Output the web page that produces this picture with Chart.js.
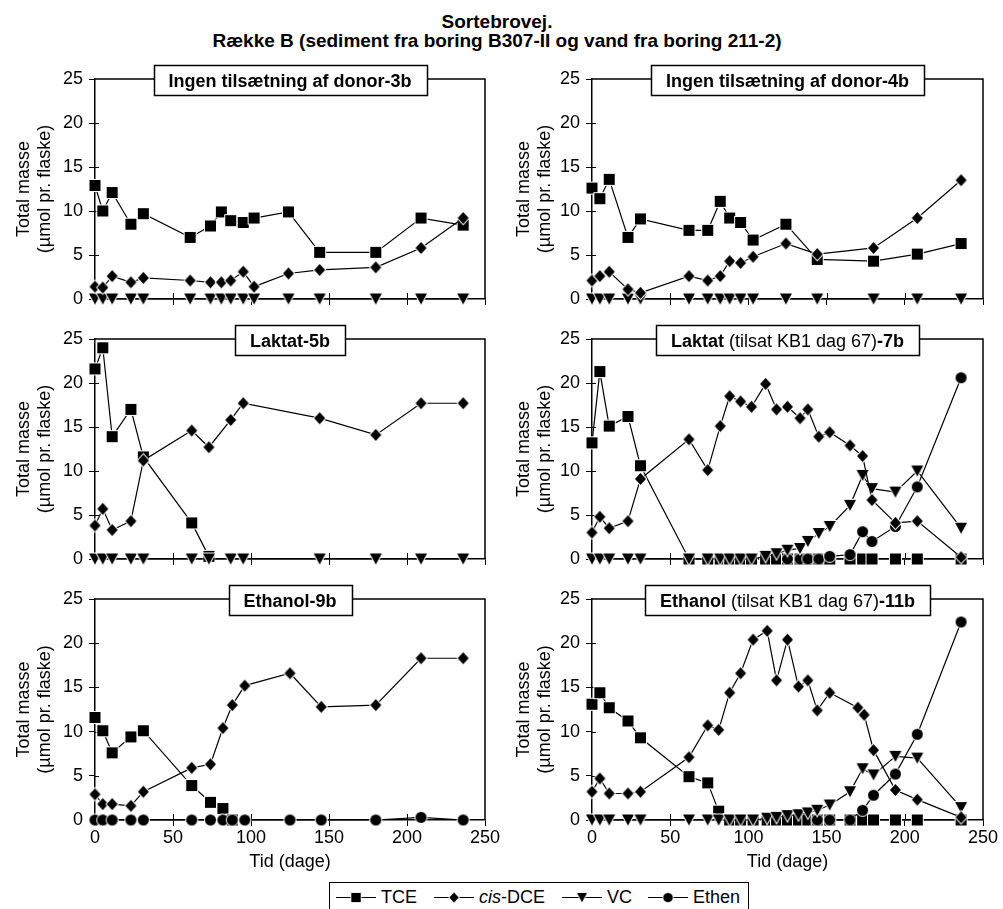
<!DOCTYPE html>
<html lang="da">
<head>
<meta charset="utf-8">
<title>Sortebrovej – Række B</title>
<script src="https://cdn.jsdelivr.net/npm/chart.js@4.4.1/dist/chart.umd.min.js"></script>
<style>
  html, body { margin: 0; padding: 0; background: #fff; }
  body {
    width: 1003px; height: 909px; position: relative; overflow: hidden;
    font-family: "Liberation Sans", Arial, Helvetica, sans-serif; color: #000;
  }
  .title {
    position: absolute; left: 0; top: 12px; width: 994px;
    text-align: center; font-weight: bold; font-size: 19px; line-height: 19px;
  }
  canvas.panel { position: absolute; }
  #p3b { left: 0; top: 49px; }
  #p4b { left: 500px; top: 49px; }
  #p5b { left: 0; top: 309px; }
  #p7b { left: 500px; top: 309px; }
  #p9b { left: 0; top: 569px; }
  #p11b { left: 500px; top: 569px; }
  .legend {
    position: absolute; left: 329px; top: 882px; width: 420px; height: 40px;
    border: 1.5px solid #000; box-sizing: border-box; font-size: 18px;
  }
  .legend canvas, .legend span { position: absolute; }
  .legend span { top: 4px; line-height: 20px; white-space: nowrap; }
  .legend canvas { top: 4px; }
</style>
</head>
<body>
<div class="title">Sortebrovej.<br>Række B (sediment fra boring B307-II og vand fra boring 211-2)</div>

<canvas class="panel" id="p3b" width="500" height="262"></canvas>
<canvas class="panel" id="p4b" width="503" height="262"></canvas>
<canvas class="panel" id="p5b" width="500" height="262"></canvas>
<canvas class="panel" id="p7b" width="503" height="262"></canvas>
<canvas class="panel" id="p9b" width="500" height="304"></canvas>
<canvas class="panel" id="p11b" width="503" height="304"></canvas>

<div class="legend" id="legend"></div>

<script>
// Total masse (µmol pr. flaske) mod tid (dage), en serie pr. stof og flaske

// 3b: ingen tilsætning af donor
const days3b = [0, 5, 11, 23, 31, 61, 74, 81, 87, 95, 102, 124, 144, 180, 209, 236];
const tce3b = [12.9, 10.0, 12.1, 8.5, 9.7, 7.0, 8.3, 9.9, 8.9, 8.7, 9.2, 9.9, 5.3, 5.3, 9.2, 8.4];
const dce3b = [1.4, 1.3, 2.6, 1.9, 2.4, 2.1, 1.9, 1.9, 2.1, 3.1, 1.4, 2.9, 3.3, 3.6, 5.8, 9.2];
const vc3b = [0, 0, 0, 0, 0, 0, 0, 0, 0, 0, 0, 0, 0, 0, 0, 0];

// 4b: ingen tilsætning af donor
const days4b = [0, 5, 11, 23, 31, 62, 74, 82, 88, 95, 103, 124, 144, 180, 208, 236];
const tce4b = [12.6, 11.4, 13.6, 7.0, 9.1, 7.8, 7.8, 11.1, 9.2, 8.7, 6.7, 8.5, 4.5, 4.3, 5.1, 6.3];
const dce4b = [2.1, 2.6, 3.1, 1.1, 0.7, 2.6, 2.1, 2.6, 4.3, 4.1, 4.8, 6.3, 5.1, 5.8, 9.2, 13.5];
const vc4b = [0, 0, 0, 0, 0, 0, 0, 0, 0, 0, 0, 0, 0, 0, 0, 0];

// 5b: laktat
const tceDays5b = [0, 5, 11, 23, 31, 62, 73];
const tce5b = [21.6, 24.0, 13.9, 17.0, 11.6, 4.1, 0.3];
const days5b = [0, 5, 11, 23, 31, 62, 73, 87, 95, 144, 180, 209, 236];
const dce5b = [3.8, 5.7, 3.3, 4.3, 11.2, 14.6, 12.7, 15.8, 17.7, 16.0, 14.1, 17.7, 17.7];
const vc5b = [0, 0, 0, 0, 0, 0, 0, 0, 0, 0, 0, 0, 0];

// 7b: laktat, KB1 tilsat dag 67
const days7b = [0, 5, 11, 23, 31, 62, 74, 82, 88, 95, 102, 111, 118, 125, 133, 138, 145, 152, 165, 173, 179, 194, 208, 236];
const tce7b = [13.2, 21.3, 15.1, 16.2, 10.6, 0, 0, 0, 0, 0, 0, 0, 0, 0, 0, 0, 0, 0, 0, 0, 0, 0, 0, 0];
const dce7b = [3.0, 4.8, 3.5, 4.3, 9.1, 13.6, 10.1, 15.1, 18.5, 17.9, 17.3, 19.9, 17.0, 17.3, 16.0, 17.0, 13.9, 14.4, 12.9, 11.7, 6.7, 4.1, 4.3, 0.2];
const vc7b = [0, 0, 0, 0, 0, 0, 0, 0, 0, 0, 0, 0.3, 0.6, 1.0, 1.2, 2.0, 2.9, 3.7, 6.1, 9.5, 8.0, 7.6, 10.0, 3.5];
const ethenDays7b = [125, 133, 138, 145, 152, 165, 173, 179, 194, 208, 236];
const ethen7b = [0, 0, 0, 0, 0.3, 0.5, 3.1, 2.0, 3.7, 8.2, 20.6];

// 9b: ethanol
const tceDays9b = [0, 5, 11, 23, 31, 62, 74, 82, 88];
const tce9b = [11.6, 10.1, 7.6, 9.4, 10.1, 3.9, 2.0, 1.3, 0];
const days9b = [0, 5, 11, 23, 31, 62, 74, 82, 88, 96, 125, 145, 180, 209, 236];
const dce9b = [2.9, 1.8, 1.8, 1.6, 3.2, 5.9, 6.3, 10.4, 13.0, 15.2, 16.6, 12.8, 13.0, 18.3, 18.3];
const ethen9b = [0, 0, 0, 0, 0, 0, 0, 0, 0, 0, 0, 0, 0, 0.3, 0];

// 11b: ethanol, KB1 tilsat dag 67
const days11b = [0, 5, 11, 23, 31, 62, 74, 81, 88, 95, 103, 112, 118, 125, 132, 138, 144, 152, 165, 173, 180, 194, 208, 236];
const tce11b = [13.1, 14.4, 12.7, 11.2, 9.3, 4.9, 4.2, 1.0, 0, 0, 0, 0, 0, 0, 0, 0, 0, 0, 0, 0, 0, 0, 0, 0];
const vc11b = [0, 0, 0, 0, 0, 0, 0, 0, 0, 0, 0, 0.2, 0.3, 0.5, 0.6, 0.8, 1.1, 1.7, 3.2, 5.8, 5.1, 7.2, 7.0, 1.4];
const dceDays11b = [0, 5, 11, 23, 31, 62, 74, 81, 88, 95, 103, 112, 118, 125, 132, 138, 144, 152, 170, 174, 180, 194, 208, 236];
const dce11b = [3.2, 4.7, 3.0, 3.0, 3.2, 7.1, 10.7, 10.2, 14.4, 16.6, 20.4, 21.4, 15.8, 20.4, 15.1, 15.8, 12.4, 14.4, 12.7, 11.9, 7.9, 3.4, 2.3, 0.3];
const ethenDays11b = [144, 152, 165, 173, 180, 194, 208, 236];
const ethen11b = [0, 0, 0, 1.1, 2.8, 5.2, 9.7, 22.4];

const FONT = '"Liberation Sans", Arial, Helvetica, sans-serif';
Chart.defaults.font.family = FONT;
Chart.defaults.font.size = 18;
Chart.defaults.color = '#000';

// black marker with a thin white rim, used as pointStyle
function makeMarker(shape, w, h) {
  const c = document.createElement('canvas');
  c.width = w + 4;
  c.height = h + 4;
  const g = c.getContext('2d');
  const cx = c.width / 2, cy = c.height / 2;
  g.beginPath();
  if (shape === 'square') {
    g.rect(cx - w / 2, cy - h / 2, w, h);
  } else if (shape === 'diamond') {
    g.moveTo(cx, cy - h / 2);
    g.lineTo(cx + w / 2, cy);
    g.lineTo(cx, cy + h / 2);
    g.lineTo(cx - w / 2, cy);
    g.closePath();
  } else if (shape === 'triangle') {
    g.moveTo(cx - w / 2, cy - h / 2);
    g.lineTo(cx + w / 2, cy - h / 2);
    g.lineTo(cx, cy + h / 2);
    g.closePath();
  } else {
    g.ellipse(cx, cy, w / 2, h / 2, 0, 0, Math.PI * 2);
  }
  g.lineWidth = 2;
  g.strokeStyle = '#fff';
  g.stroke();
  g.fillStyle = '#000';
  g.fill();
  return c;
}

const STYLE = {
  'TCE': {marker: makeMarker('square', 11, 11), order: 3},
  'cis-DCE': {marker: makeMarker('diamond', 11, 12), order: 0},
  'VC': {marker: makeMarker('triangle', 12, 11), order: 1},
  'Ethen': {marker: makeMarker('circle', 11, 11), order: 2}
};

// top and right edges of the box plus the inner half of the tick marks
const frame = {
  id: 'frame',
  beforeDatasetsDraw(chart) {
    const {ctx, chartArea: a, scales: {x, y}} = chart;
    ctx.save();
    ctx.strokeStyle = '#000';
    ctx.lineWidth = 1.5;
    ctx.beginPath();
    ctx.moveTo(a.left, a.top);
    ctx.lineTo(a.right, a.top);
    ctx.lineTo(a.right, a.bottom);
    ctx.stroke();

    ctx.lineWidth = 1;
    ctx.beginPath();
    x.ticks.forEach((t) => {
      if (t.value > x.min && t.value < x.max) {
        const px = Math.round(x.getPixelForValue(t.value)) + 0.5;
        ctx.moveTo(px, a.bottom);
        ctx.lineTo(px, a.bottom - 6);
      }
    });
    y.ticks.forEach((t) => {
      if (t.value > y.min && t.value < y.max) {
        const py = Math.round(y.getPixelForValue(t.value)) + 0.5;
        ctx.moveTo(a.left, py);
        ctx.lineTo(a.left + 4, py);
      }
    });
    ctx.stroke();
    ctx.restore();
  }
};

// boxed heading sitting on the top edge, with bold and plain runs
const panelTitle = {
  id: 'panelTitle',
  afterDraw(chart, args, opts) {
    const {ctx, chartArea: a} = chart;
    const parts = opts.parts || [];
    ctx.save();
    const widths = parts.map(([text, bold]) => {
      ctx.font = (bold ? 'bold ' : '') + '18px ' + FONT;
      return ctx.measureText(text).width;
    });
    const textW = widths.reduce((s, v) => s + v, 0);
    const boxW = Math.round(textW + 30);
    const cx = (a.left + a.right) / 2;
    const bx = Math.round(cx - boxW / 2) + 0.5;
    const by = Math.round(a.top - 14) + 0.5;
    ctx.fillStyle = '#fff';
    ctx.fillRect(bx, by, boxW, 30);
    ctx.strokeStyle = '#000';
    ctx.lineWidth = 1.5;
    ctx.strokeRect(bx, by, boxW, 30);

    ctx.fillStyle = '#000';
    ctx.textBaseline = 'alphabetic';
    let tx = cx - textW / 2;
    parts.forEach(([text, bold], i) => {
      ctx.font = (bold ? 'bold ' : '') + '18px ' + FONT;
      ctx.fillText(text, tx, a.top + 8);
      tx += widths[i];
    });
    ctx.restore();
  }
};

const panels = [
  {id: 'p3b', right: false, bottom: false,
    title: [['Ingen tilsætning af donor-3b', true]],
    series: [['TCE', days3b, tce3b], ['cis-DCE', days3b, dce3b], ['VC', days3b, vc3b]]},
  {id: 'p4b', right: true, bottom: false,
    title: [['Ingen tilsætning af donor-4b', true]],
    series: [['TCE', days4b, tce4b], ['cis-DCE', days4b, dce4b], ['VC', days4b, vc4b]]},
  {id: 'p5b', right: false, bottom: false,
    title: [['Laktat-5b', true]],
    series: [['TCE', tceDays5b, tce5b], ['cis-DCE', days5b, dce5b], ['VC', days5b, vc5b]]},
  {id: 'p7b', right: true, bottom: false,
    title: [['Laktat', true], [' (tilsat KB1 dag 67)', false], ['-7b', true]],
    series: [['TCE', days7b, tce7b], ['cis-DCE', days7b, dce7b], ['VC', days7b, vc7b],
      ['Ethen', ethenDays7b, ethen7b]]},
  {id: 'p9b', right: false, bottom: true,
    title: [['Ethanol-9b', true]],
    series: [['TCE', tceDays9b, tce9b], ['cis-DCE', days9b, dce9b], ['Ethen', days9b, ethen9b]]},
  {id: 'p11b', right: true, bottom: true,
    title: [['Ethanol', true], [' (tilsat KB1 dag 67)', false], ['-11b', true]],
    series: [['TCE', days11b, tce11b], ['cis-DCE', dceDays11b, dce11b], ['VC', days11b, vc11b],
      ['Ethen', ethenDays11b, ethen11b]]}
];

const axisGrid = {display: true, drawOnChartArea: false, drawTicks: true, tickLength: 6, color: '#000', lineWidth: 1};
const axisBorder = {display: true, color: '#000', width: 1.5};

panels.forEach((p) => {
  const datasets = p.series.map(([name, xs, ys]) => ({
    label: name,
    data: xs.map((x, i) => ({x, y: ys[i]})),
    borderColor: '#000',
    borderWidth: 1.2,
    backgroundColor: '#000',
    pointStyle: STYLE[name].marker,
    pointRadius: 6,
    pointHoverRadius: 6,
    order: STYLE[name].order,
    tension: 0,
    fill: false,
    clip: false
  }));

  new Chart(document.getElementById(p.id), {
    type: 'line',
    data: {datasets},
    plugins: [frame, panelTitle],
    options: {
      responsive: false,
      animation: false,
      events: [],
      layout: {padding: {top: 30, right: p.right ? 20 : 15, left: 0, bottom: 0}},
      plugins: {
        legend: {display: false},
        tooltip: {enabled: false},
        panelTitle: {parts: p.title}
      },
      scales: {
        x: {
          type: 'linear',
          min: 0,
          max: 250,
          ticks: {stepSize: 50, display: p.bottom, padding: 1, maxRotation: 0},
          grid: axisGrid,
          border: axisBorder,
          title: {display: p.bottom, text: 'Tid (dage)', padding: 0},
          afterFit(scale) {
            scale.height = p.bottom ? 53 : 12;
            scale.paddingLeft = 0;
            scale.paddingRight = 0;
          }
        },
        y: {
          type: 'linear',
          min: 0,
          max: 25,
          ticks: {stepSize: 5, padding: 6},
          grid: axisGrid,
          border: axisBorder,
          title: {
            display: true,
            text: ['Total masse', '(µmol pr. flaske)'],
            padding: {top: 14, bottom: 0},
            font: {size: 18, lineHeight: 1.14}
          },
          afterFit(scale) {
            scale.width = p.right ? 92 : 95;
            scale.paddingTop = 0;
            scale.paddingBottom = 0;
          }
        }
      }
    }
  });
});

// legend strip under the panels: [series, label html, symbol left, text left]
const legendItems = [
  ['TCE', 'TCE', 6, 51],
  ['cis-DCE', '<i>cis</i>-DCE', 104, 149],
  ['VC', 'VC', 232, 277],
  ['Ethen', 'Ethen', 318, 363]
];
const legend = document.getElementById('legend');
legendItems.forEach(([name, html, symX, textX]) => {
  const c = document.createElement('canvas');
  c.width = 40;
  c.height = 20;
  c.style.left = symX + 'px';
  const g = c.getContext('2d');
  g.strokeStyle = '#000';
  g.lineWidth = 1.2;
  g.beginPath();
  g.moveTo(0, 10.5);
  g.lineTo(40, 10.5);
  g.stroke();
  const m = STYLE[name].marker;
  const mw = m.width * 0.85, mh = m.height * 0.85;
  g.drawImage(m, 20 - mw / 2, 10.5 - mh / 2, mw, mh);
  legend.appendChild(c);

  const s = document.createElement('span');
  s.innerHTML = html;
  s.style.left = textX + 'px';
  legend.appendChild(s);
});
</script>
</body>
</html>
